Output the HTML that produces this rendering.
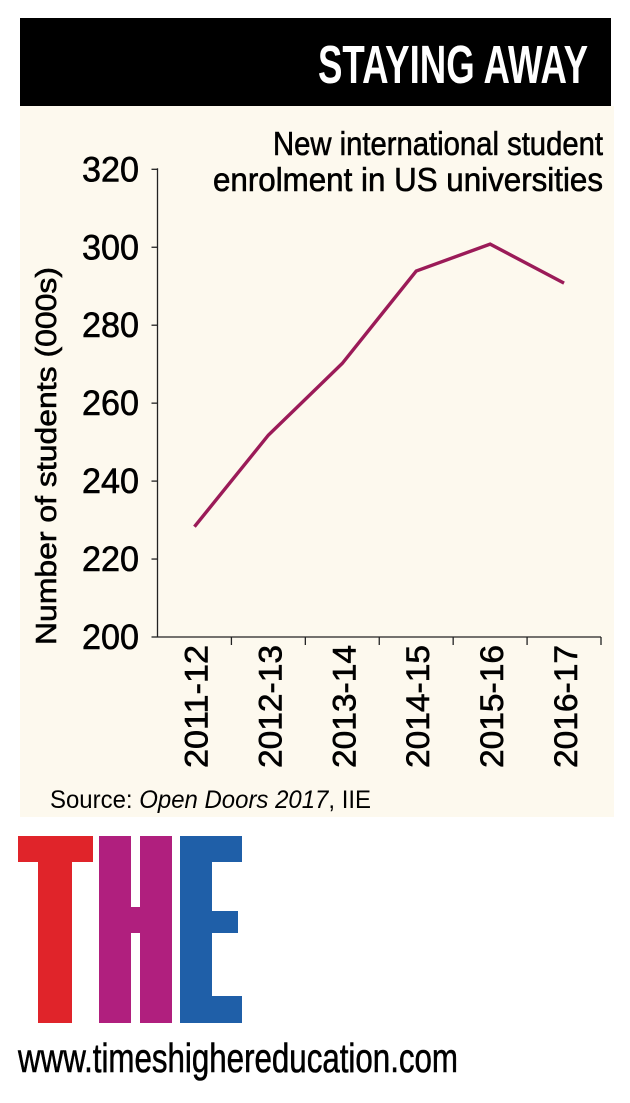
<!DOCTYPE html>
<html><head><meta charset="utf-8"><style>
html,body{margin:0;padding:0;background:#fff;width:630px;height:1103px;overflow:hidden}
svg{display:block}
text{font-family:"Liberation Sans Narrow","Liberation Sans",sans-serif}
.b{stroke:#000;stroke-width:0.6}
</style></head><body>
<svg id="chart" width="630" height="1103" viewBox="0 0 630 1103">
  <rect x="20" y="18" width="591" height="88" fill="#000"/>
  <text x="588" y="83" text-anchor="end" fill="#fff" font-size="54" font-weight="bold" textLength="270" lengthAdjust="spacingAndGlyphs">STAYING AWAY</text>
  <rect x="20" y="106" width="594" height="711" fill="#fdf9ee"/>
  <text class="b" x="603" y="155" text-anchor="end" font-size="33" textLength="330" lengthAdjust="spacingAndGlyphs">New international student</text>
  <text class="b" x="603" y="191" text-anchor="end" font-size="33" textLength="390" lengthAdjust="spacingAndGlyphs">enrolment in US universities</text>
  <text class="b" transform="translate(56,456) rotate(-90)" text-anchor="middle" font-size="29" textLength="378" lengthAdjust="spacingAndGlyphs">Number of students (000s)</text>
  <g id="axes"></g>
  <text x="50" y="808" font-size="25" textLength="321" lengthAdjust="spacingAndGlyphs">Source: <tspan font-style="italic">Open Doors 2017</tspan>, IIE</text>
  <g>
    <path d="M18 836H93V862H72V1023H38V862H18Z" fill="#e0242a"/>
    <path d="M99 836H131V907H140V836H172V1023H140V933H131V1023H99Z" fill="#b01f7e"/>
    <path d="M180 836H242V862H212V911H238V933H212V996H242V1023H180Z" fill="#1f5fa8"/>
  </g>
  <text class="b" x="18" y="1072" font-size="41" textLength="440" lengthAdjust="spacingAndGlyphs">www.timeshighereducation.com</text>
</svg>
<script>
const categories = ["2011-12","2012-13","2013-14","2014-15","2015-16","2016-17"];
const enrolment = [228.3, 251.8, 270.2, 293.9, 300.8, 290.8];
const yTicks = [200, 220, 240, 260, 280, 300, 320];

const NS = "http://www.w3.org/2000/svg";
const g = document.getElementById("axes");
const x0 = 157.5, x1 = 601, yBase = 637, yTop = 169.3, yMin = 200, yMax = 320;
const band = (x1 - x0) / categories.length;
const xScale = i => x0 + band * (i + 0.5);
const yScale = v => yBase - (v - yMin) / (yMax - yMin) * (yBase - yTop);
function mk(tag, attrs) { const e = document.createElementNS(NS, tag); for (const k in attrs) e.setAttribute(k, attrs[k]); g.appendChild(e); return e; }

const yAxis = mk("line", {x1: x0, y1: yTop - 1, x2: x0, y2: yBase, stroke: "#222", "stroke-width": 1.3});


const xAxis = mk("line", {x1: x0, y1: yBase, x2: x1, y2: yBase, stroke: "#222", "stroke-width": 1.3});



yTicks.forEach(v => {
  const y = yScale(v);
  const t = mk("line", {x1: x0 - 6, y1: y, x2: x0, y2: y, stroke: "#222", "stroke-width": 1.3});
  
  
  const l = mk("text", {x: 139, y: y + 12, "text-anchor": "end", "font-size": 35, "class": "b", textLength: 57, lengthAdjust: "spacingAndGlyphs"});
  l.textContent = v;
  
  
});

categories.forEach((c, i) => {
  const tx = x0 + band * (i + 1);
  const t = mk("line", {x1: tx, y1: yBase, x2: tx, y2: yBase + 8, stroke: "#222", "stroke-width": 1.3});
  
  
  const l = mk("text", {transform: `translate(${xScale(i) + 13},645) rotate(-90)`, "text-anchor": "end", "font-size": 32, "class": "b", textLength: 123, lengthAdjust: "spacingAndGlyphs"});
  l.textContent = c;
  
  
});

const pts = enrolment.map((v, i) => xScale(i) + "," + yScale(v)).join(" ");
const line = mk("polyline", {points: pts, fill: "none", stroke: "#9b1b58", "stroke-width": 3.4, "stroke-linejoin": "miter"});


</script>
</body></html>
